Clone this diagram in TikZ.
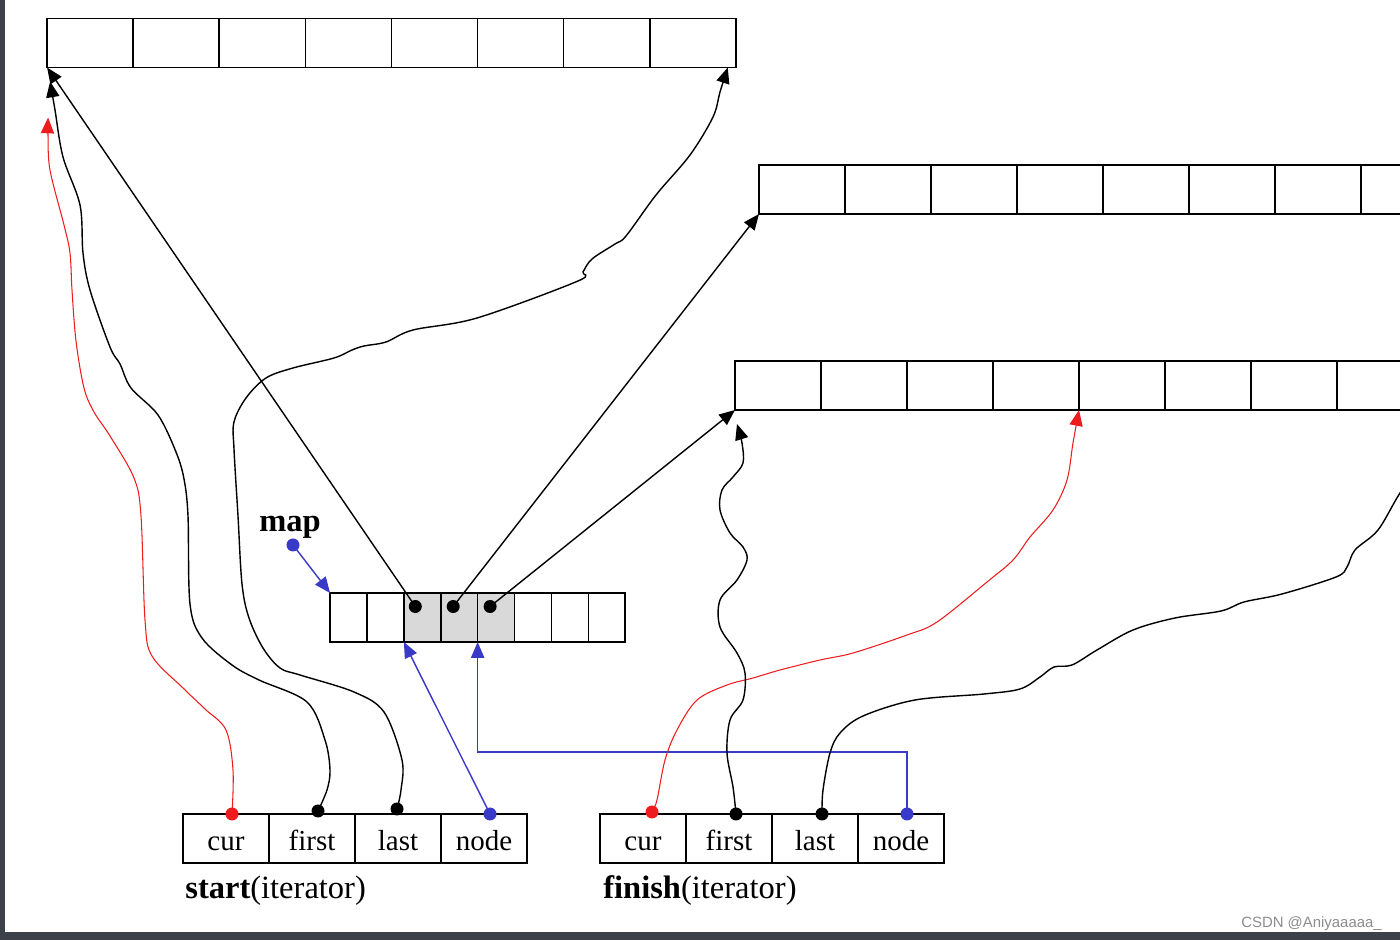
\documentclass[tikz,border=0pt]{standalone}
\usepackage{fontspec}
\setmainfont{Liberation Serif}
\setsansfont{Liberation Sans}
\usetikzlibrary{positioning,arrows.meta,calc}
\definecolor{frame}{HTML}{3C414A}
\definecolor{ptrred}{HTML}{EE1C1C}
\definecolor{ptrblue}{HTML}{3A3AC8}
\tikzset{
  cell/.style={draw=black, line width=0.9pt, minimum width=17.2mm, minimum height=9.8mm,
    inner sep=0pt, outer sep=0pt, text height=15pt, text depth=1pt,
    font=\fontsize{16.5}{18}\selectfont},
  mapcell/.style={cell, minimum width=7.38mm},
  ptr/.style={line width=0.8pt, draw=black, -{Triangle[length=9pt,width=7.5pt]}},
  redptr/.style={ptr, line width=0.6pt, draw=ptrred},
  blueptr/.style={ptr, draw=ptrblue},
  curve/.style={smooth, tension=0.55},
  title/.style={font=\fontsize{18.5}{20}\selectfont, inner sep=0pt, anchor=west}
}

\begin{document}
\begin{tikzpicture}[x=0.2mm, y=-0.2mm]
    \useasboundingbox (0,0) rectangle (1400,940);
    \clip (0,0) rectangle (1400,940);

    \foreach \i in {0,...,7} {
      \node[cell] (top\i) at ({90.1+86.1*\i},43) {};
      \node[cell] (mid\i) at ({802+86*\i},189.5) {};
      \node[cell] (bot\i) at ({778+86*\i},385.5) {};
    }
    \foreach \i/\shade in {0/white,1/white,2/black!15,3/black!15,4/black!15,5/white,6/white,7/white}
      \node[mapcell, fill=\shade] (map\i) at ({348.5+36.9*\i},617.5) {};
    \foreach \t [count=\i from 0] in {cur,first,last,node} {
      \node[cell] (s\i) at ({226+86*\i},838.5) {\t};
      \node[cell] (f\i) at ({643+86*\i},838.5) {\t};
    }

    \node[font=\fontsize{18.5}{20}\selectfont\bfseries] (maplbl) at (290,527) {map};
    \node[title] (startlbl) at (185,891) {\textbf{start}(iterator)};
    \node[title] (finishlbl) at (603,891) {\textbf{finish}(iterator)};

    \coordinate (mapDot) at (293,545);
    \coordinate (m2) at ($(map2.center)+(-7,-11)$);
    \coordinate (m3) at ($(map3.center)+(-6,-11)$);
    \coordinate (m4) at ($(map4.center)+(-6,-11)$);
    \coordinate (sCur) at ($(s0.north)+(6,0)$);
    \coordinate (sFirst) at ($(s1.north)+(6,-3)$);
    \coordinate (sLast) at ($(s2.north)+(-1,-5)$);
    \coordinate (sNode) at ($(s3.north)+(6,0)$);
    \coordinate (fCur) at ($(f0.north)+(9,-2)$);
    \coordinate (fFirst) at ($(f1.north)+(7,0)$);
    \coordinate (fLast) at ($(f2.north)+(7,0)$);
    \coordinate (fNode) at ($(f3.north)+(6,0)$);
    \coordinate (redTop) at ($(top0.south west)+(1,50)$);
    \coordinate (firstTop) at ($(top0.south west)+(3,14)$);
    \coordinate (lastTop) at ($(top7.south east)+(-8,0)$);
    \coordinate (firstBot) at ($(bot0.south west)+(2,14)$);
    \coordinate (fOut) at (1430,450);

    \draw[ptr] (m2) -- (top0.south west);
    \draw[ptr] (m3) -- (mid0.south west);
    \draw[ptr] (m4) -- (bot0.south west);

    \draw[blueptr] (mapDot) -- (map0.north west);
    \draw[blueptr] (sNode) -- (map2.south west);
    \draw[blueptr] (fNode) -- ++(0,-62) -| (map4.south west);

    \draw[redptr] plot[curve] coordinates {(sCur) (233,770) (226,730) (205,709) (183,688) (152,656)
      (145,620) (141,516) (134,478) (110,436) (94,412) (84,388) (76,341) (72,290) (70,253)
      (64,225) (50,170) (48,135) (redTop)};
    \draw[ptr] plot[curve] coordinates {(sFirst) (327,790) (330,770) (325,740) (307,702) (259,680)
      (232,665) (202,638) (190,604) (188,516) (184,479) (176,452) (158,415) (131,388) (120,364)
      (110,347) (90,290) (83,253) (80,205) (63,157) (55,110) (firstTop)};
    \draw[ptr] plot[curve] coordinates {(sLast) (401,790) (402,760) (384,712) (354,692) (300,675)
      (280,668) (263,648) (249,618) (242,584) (238,516) (234,449) (234,422) (246,398) (266,378)
      (293,368) (334,358) (352,350) (364,346) (386,342) (413,330) (477,318) (578,281) (583,272)
      (592,259) (615,244) (626,236) (656,195) (690,155) (713,117) (720,92) (lastTop)};

    \draw[redptr] plot[curve] coordinates {(fCur) (657,800) (665,760) (677,730) (697,700) (727,685)
      (753,678) (780,670) (820,660) (853,653) (907,635) (937,622) (987,582) (1013,560) (1030,537)
      (1053,510) (1067,480) (1073,443) (bot4.south west)};
    \draw[ptr] plot[curve] coordinates {(fFirst) (733,787) (727,753) (730,720) (743,700) (745,673)
      (737,653) (720,627) (720,600) (737,580) (747,560) (743,547) (730,533) (720,510) (722,490)
      (733,477) (743,463) (742,443) (firstBot)};
    \draw[line width=0.8pt] plot[curve] coordinates {(fLast) (823,790) (830,753) (840,733) (863,716)
      (915,700) (984,694) (1020,689) (1040,677) (1054,667) (1072,665) (1097,650) (1133,630)
      (1175,618) (1221,611) (1244,602) (1282,594) (1336,577) (1347,567) (1355,550) (1378,530)
      (1400,493) (fOut)};

    \foreach \p in {m2,m3,m4,sFirst,sLast,fFirst,fLast}
      \fill[black] (\p) circle[radius=1.3mm];
    \foreach \p in {sCur,fCur}
      \fill[ptrred] (\p) circle[radius=1.3mm];
    \foreach \p in {mapDot,sNode,fNode}
      \fill[ptrblue] (\p) circle[radius=1.3mm];

    \node[font=\sffamily\fontsize{8.5}{10}\selectfont, text=black!45, anchor=east] (wm) at (1388,924) {CSDN @Aniyaaaaa\_};
    \fill[frame] (0,0) rectangle (5,940);
    \fill[frame] (0,932) rectangle (1400,940);
\end{tikzpicture}
\end{document}
